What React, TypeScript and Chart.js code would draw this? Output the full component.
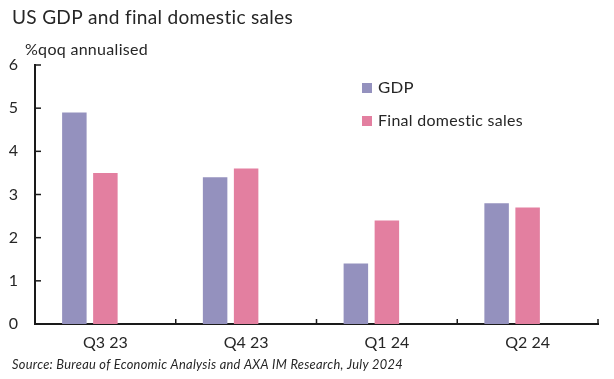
import React, { useEffect, useRef } from "react";
import { Chart, registerables } from "chart.js";
Chart.register(...registerables);

const categories = ["Q3 23", "Q4 23", "Q1 24", "Q2 24"];
const gdp = [4.9, 3.4, 1.4, 2.8];
const finalDomesticSales = [3.5, 3.6, 2.4, 2.7];
const emptySeries = [null, null, null, null];
const seriesLabels = ["GDP", "Final domestic sales"];
const yMin = 0;
const yMax = 6;
const titleText = "US GDP and final domestic sales";
const unitText = "%qoq annualised";
const sourceText = "Source: Bureau of Economic Analysis and AXA IM Research, July 2024";

const FONT = "Lato";
const TEXT = "#262626";
const AXIS = "#1a1a1a";
const GDP_COLOR = "#9491BE";
const FDS_COLOR = "#E37FA0";

function fitText(ctx: any, text: string, x: number, y: number, font: string, width: number) {
  ctx.font = font;
  ctx.letterSpacing = "0.3px";
  const w = ctx.measureText(text).width;
  ctx.save();
  ctx.translate(x, y);
  ctx.scale(width / w, 1);
  ctx.fillText(text, 0, 0);
  ctx.restore();
}

const decorPlugin = {
  id: "decor",
  afterDraw(chart: any) {
    const ctx = chart.ctx;
    const xs = chart.scales.x;
    const ys = chart.scales.y;
    ctx.save();
    ctx.strokeStyle = AXIS;
    ctx.lineWidth = 1.5;
    ys.ticks.forEach((t: any) => {
      const y = ys.getPixelForValue(t.value);
      ctx.beginPath();
      ctx.moveTo(xs.left, y);
      ctx.lineTo(xs.left + 6, y);
      ctx.stroke();
    });
    const n = categories.length;
    for (let i = 0; i < n; i++) {
      const x = i < n - 1 ? (xs.getPixelForValue(i) + xs.getPixelForValue(i + 1)) / 2 : xs.right;
      ctx.beginPath();
      ctx.moveTo(x, ys.bottom);
      ctx.lineTo(x, ys.bottom - 5);
      ctx.stroke();
    }
    ctx.fillStyle = TEXT;
    ctx.textBaseline = "middle";
    ctx.textAlign = "left";
    fitText(ctx, titleText, 12, 18, `20px ${FONT}`, 281);
    fitText(ctx, unitText, 25, 50, `16px ${FONT}`, 123);
    fitText(ctx, sourceText, 12, 364, `italic 14px ${FONT}`, 391);
    const colors = [GDP_COLOR, FDS_COLOR];
    const ly = [88, 121];
    const widths = [36, 145];
    seriesLabels.forEach((lab, i) => {
      ctx.fillStyle = colors[i];
      ctx.fillRect(362, ly[i] - 5, 10, 10);
      ctx.fillStyle = TEXT;
      fitText(ctx, lab, 378, ly[i], `16px ${FONT}`, widths[i]);
    });
    ctx.restore();
  },
};

export default function App() {
  const ref = useRef<HTMLCanvasElement>(null);
  useEffect(() => {
    if (!ref.current) return;
    const chart = new Chart(ref.current, {
      type: "bar",
      data: {
        labels: categories,
        datasets: [
          { label: seriesLabels[0], data: gdp, backgroundColor: GDP_COLOR },
          { label: seriesLabels[1], data: finalDomesticSales, backgroundColor: FDS_COLOR },
          { label: "", data: emptySeries as any, backgroundColor: "rgba(0,0,0,0)" },
        ],
      },
      options: {
        animation: false,
        responsive: false,
        maintainAspectRatio: false,
        datasets: { bar: { categoryPercentage: 0.661, barPercentage: 0.79 } },
        layout: { padding: { top: 65, right: 16, bottom: 19, left: 0 } },
        plugins: { legend: { display: false }, tooltip: { enabled: false }, title: { display: false } },
        scales: {
          x: {
            grid: { display: false, drawTicks: false },
            border: { display: true, color: AXIS, width: 2 },
            ticks: { color: TEXT, font: { family: FONT, size: 16 }, padding: 9, maxRotation: 0 },
            afterFit: (s: any) => { s.height = 36; },
          },
          y: {
            min: yMin,
            max: yMax,
            grid: { display: false, drawTicks: false },
            border: { display: true, color: AXIS, width: 2 },
            ticks: { stepSize: 1, color: TEXT, font: { family: FONT, size: 16 }, padding: 17 },
            afterFit: (s: any) => { s.width = 35; },
          },
        },
      },
      plugins: [decorPlugin],
    });
    return () => chart.destroy();
  }, []);
  return (
    <div style={{ position: "fixed", left: 0, top: 0, width: 614, height: 379, background: "#fff" }}>
      <canvas ref={ref} width={614} height={379} style={{ display: "block" }} />
    </div>
  );
}
